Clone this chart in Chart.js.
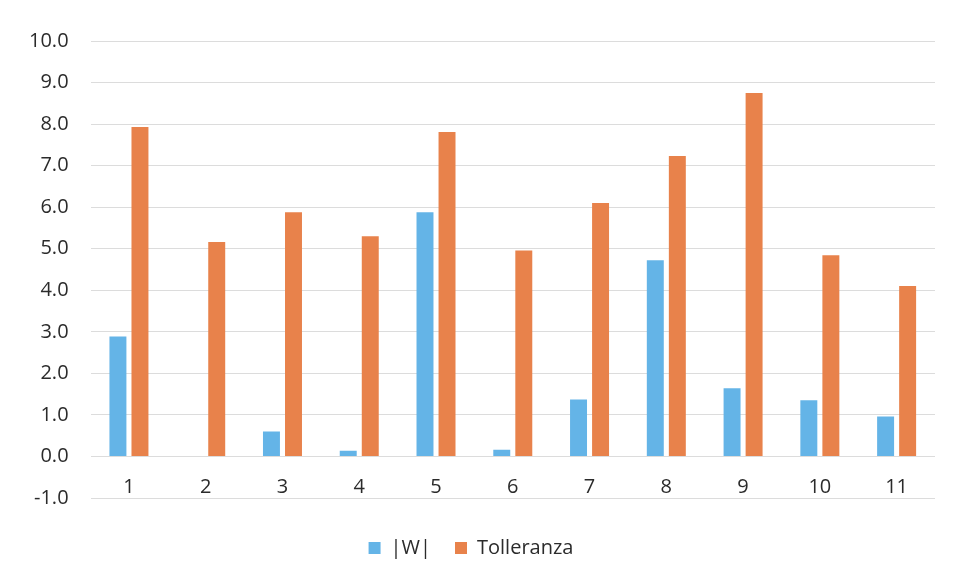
<!DOCTYPE html>
<html>
<head>
<meta charset="utf-8">
<script src="https://cdn.jsdelivr.net/npm/chart.js@4"></script>
<style>
	body { margin: 0; background: #fff; }
	#wrap { width: 955px; height: 583px; }
</style>
</head>
<body>
<div id="wrap"><canvas id="chart1" width="955" height="583"></canvas></div>
<script>
// dati
var categorie = ['1', '2', '3', '4', '5', '6', '7', '8', '9', '10', '11'];
var valoriW = [2.89, 0.0, 0.60, 0.14, 5.88, 0.16, 1.37, 4.72, 1.64, 1.35, 0.96];
var valoriTolleranza = [7.93, 5.16, 5.88, 5.30, 7.81, 4.96, 6.10, 7.23, 8.75, 4.84, 4.10];
var yMin = -1, yMax = 10, yStep = 1;

var fontFam = '"Open Sans", "Liberation Sans", sans-serif';

// etichette asse x disegnate vicino allo zero (come Excel)
var xLabelsAtZero = {
	id: 'xLabelsAtZero',
	afterDraw: function(chart) {
		var ctx = chart.ctx;
		var x = chart.scales.x, y = chart.scales.y;
		var y0 = y.getPixelForValue(0);
		ctx.save();
		ctx.fillStyle = '#2b2b2b';
		ctx.font = '20px ' + fontFam;
		ctx.textAlign = 'center';
		ctx.textBaseline = 'middle';
		categorie.forEach(function(c, i) {
			ctx.fillText(c, x.getPixelForValue(i), y0 + 31);
		});
		ctx.restore();
	}
};

var config1 = {
	type: 'bar',
	data: {
		labels: categorie,
		datasets: [
			{
				label: '|W|',
				data: valoriW,
				backgroundColor: '#64b4e7',
				categoryPercentage: 0.574,
				barPercentage: 0.77
			},
			{
				label: 'Tolleranza',
				data: valoriTolleranza,
				backgroundColor: '#e8824b',
				categoryPercentage: 0.574,
				barPercentage: 0.77
			}
		]
	},
	options: {
		responsive: false,
		animation: false,
		layout: {
			padding: { left: 7, right: 20, top: 41, bottom: 15 }
		},
		scales: {
			x: {
				grid: { display: false },
				border: { display: false },
				ticks: { display: false },
				afterFit: function(scale) { scale.height = 16; }
			},
			y: {
				min: yMin,
				max: yMax,
				ticks: {
					stepSize: yStep,
					color: '#2b2b2b',
					padding: 22,
					font: { size: 20, family: fontFam },
					callback: function(v) { return v.toFixed(1); }
				},
				grid: { color: '#dcdcdc', drawTicks: false },
				border: { display: false }
			}
		},
		plugins: {
			legend: {
				position: 'bottom',
				labels: {
					boxWidth: 12,
					boxHeight: 12,
					padding: 24,
					color: '#2b2b2b',
					font: { size: 20, family: fontFam }
				}
			},
			tooltip: { enabled: false }
		}
	},
	plugins: [xLabelsAtZero]
};

var chart1 = new Chart(document.getElementById('chart1'), config1);
</script>
</body>
</html>
